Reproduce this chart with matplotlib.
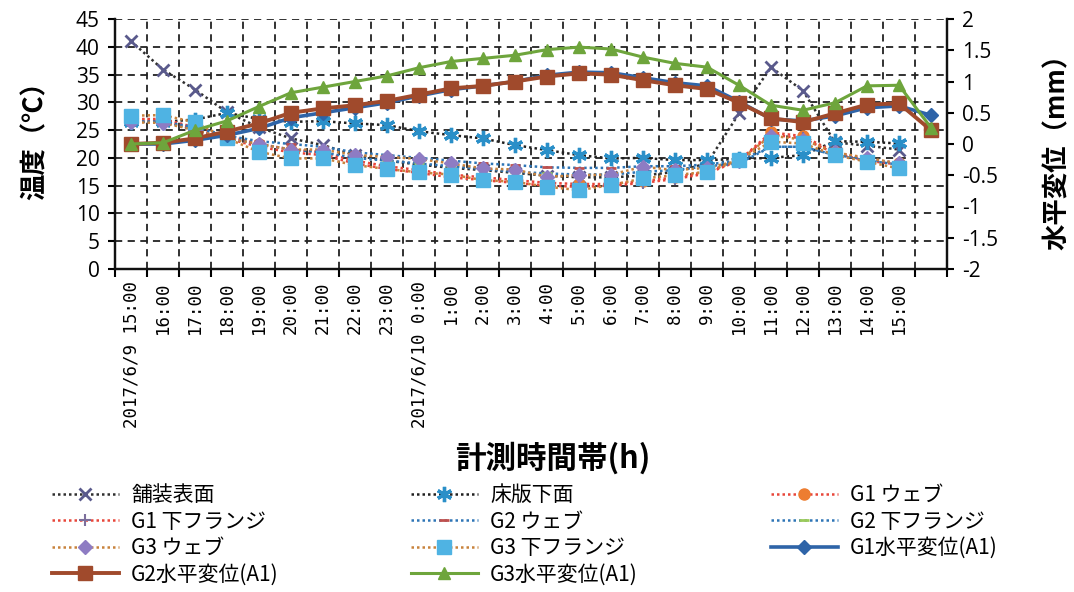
import matplotlib
matplotlib.use('Agg')
import matplotlib.pyplot as plt
import numpy as np
from matplotlib.lines import Line2D

# ---------------- data ----------------
time_labels = ["2017/6/9 15:00", "16:00", "17:00", "18:00", "19:00", "20:00", "21:00",
               "22:00", "23:00", "2017/6/10 0:00", "1:00", "2:00", "3:00", "4:00",
               "5:00", "6:00", "7:00", "8:00", "9:00", "10:00", "11:00", "12:00",
               "13:00", "14:00", "15:00", ""]

# temperatures (deg C), 15:00 .. 15:00 next day
pavement = [41.0, 35.9, 32.3, 28.2, 25.5, 23.5, 22.3, 20.5, 19.5, 18.8, 18.2, 17.8, 17.3,
            16.8, 16.5, 16.5, 16.8, 17.5, 19.0, 28.0, 36.3, 32.1, 22.8, 22.2, 21.5]
slab = [26.5, 26.5, 26.9, 28.1, 27.0, 26.5, 26.6, 26.2, 25.9, 24.8, 24.1, 23.5, 22.3,
        21.4, 20.5, 19.9, 20.0, 19.6, 19.6, 19.8, 20.0, 20.5, 23.0, 22.9, 22.6]
g1_web = [27.0, 27.0, 25.5, 24.0, 22.5, 21.5, 21.0, 19.5, 18.5, 17.8, 17.0, 16.5, 16.0,
          15.5, 15.3, 15.3, 15.8, 16.5, 17.5, 19.5, 24.6, 23.9, 21.0, 19.8, 19.0]
g1_flange = [27.0, 26.8, 25.0, 23.5, 22.0, 21.0, 20.5, 19.0, 18.0, 17.3, 16.5, 16.0, 15.5,
             15.0, 14.8, 15.0, 15.5, 16.2, 17.2, 19.5, 24.2, 23.5, 20.8, 19.5, 18.8]
g2_web = [26.5, 26.5, 25.5, 24.0, 23.0, 22.5, 22.0, 21.0, 20.5, 20.0, 19.5, 19.0, 18.7,
          18.3, 18.2, 18.2, 18.5, 18.5, 18.8, 19.5, 22.0, 22.0, 20.5, 19.8, 19.0]
g2_flange = [26.5, 26.5, 25.0, 23.5, 22.5, 21.5, 21.0, 20.0, 19.5, 19.0, 18.5, 18.0, 17.5,
             17.2, 17.0, 17.0, 17.5, 17.8, 18.5, 19.0, 22.0, 22.0, 20.5, 19.5, 18.8]
g3_web = [26.4, 26.3, 25.0, 23.5, 22.5, 21.5, 21.5, 20.5, 20.2, 19.8, 19.0, 18.1, 17.9,
          16.6, 16.9, 17.0, 18.4, 17.8, 18.2, 19.5, 24.0, 23.3, 21.0, 20.0, 19.0]
g3_flange = [27.6, 27.7, 26.4, 23.5, 21.1, 19.9, 19.9, 18.7, 18.0, 17.4, 17.0, 16.0, 15.7,
             14.8, 14.2, 15.1, 16.3, 16.9, 17.5, 19.6, 22.9, 22.6, 20.5, 19.3, 18.1]

# horizontal displacement (mm)
g1_disp = [0.0, 0.0, 0.06, 0.14, 0.25, 0.42, 0.50, 0.58, 0.66, 0.77, 0.87, 0.93, 1.00,
           1.10, 1.15, 1.14, 1.06, 0.98, 0.93, 0.68, 0.40, 0.37, 0.45, 0.58, 0.61, 0.46]
g2_disp = [0.0, 0.02, 0.09, 0.20, 0.33, 0.50, 0.57, 0.62, 0.69, 0.79, 0.89, 0.93, 1.00,
           1.08, 1.13, 1.11, 1.02, 0.94, 0.88, 0.66, 0.41, 0.35, 0.49, 0.63, 0.65, 0.22]
g3_disp = [0.0, 0.02, 0.22, 0.37, 0.60, 0.82, 0.91, 1.00, 1.09, 1.22, 1.32, 1.37, 1.42,
           1.51, 1.55, 1.52, 1.39, 1.29, 1.23, 0.94, 0.62, 0.54, 0.66, 0.93, 0.94, 0.26]

# ---------------- figure ----------------
JP = ['Noto Sans CJK JP', 'DejaVu Sans']
plt.rcParams['font.family'] = JP

W, H = 1074, 592
fig = plt.figure(figsize=(W / 100, H / 100), dpi=100)
fig.patch.set_facecolor('white')

L, R, T, B = 115, 947, 19, 269
ax1 = fig.add_axes([L / W, 1 - B / H, (R - L) / W, (B - T) / H])
ax2 = ax1.twinx()

xt = np.arange(len(pavement))
xd = np.arange(len(g1_disp))

dot = (0, (1, 1.2))
temp_styles = [
    (pavement, '舗装表面', dict(color='#303030', ls=dot, lw=1.8, marker='x', ms=9, mew=2.0,
                              mfc='#5a5a8c', mec='#5a5a8c')),
    (slab, '床版下面', dict(color='#202020', ls=dot, lw=1.8, marker=(6, 2, 0), ms=11, mew=2.4,
                          mfc='#2a8fc8', mec='#2a8fc8')),
    (g1_web, 'G1 ウェブ', dict(color='#e8463a', ls=dot, lw=1.8, marker='o', ms=8,
                             mfc='#ed7d31', mec='#ed7d31')),
    (g1_flange, 'G1 下フランジ', dict(color='#e8463a', ls=dot, lw=1.8, marker='+', ms=9, mew=1.5,
                                  mfc='#7c6f9c', mec='#7c6f9c')),
    (g2_web, 'G2 ウェブ', dict(color='#2e75b6', ls=dot, lw=1.8, marker='_', ms=7, mew=2,
                             mfc='#c0504d', mec='#c0504d')),
    (g2_flange, 'G2 下フランジ', dict(color='#2e75b6', ls=dot, lw=1.8, marker='_', ms=7, mew=2,
                                  mfc='#9bcb59', mec='#9bcb59')),
    (g3_web, 'G3 ウェブ', dict(color='#c8823c', ls=dot, lw=1.8, marker='D', ms=7,
                             mfc='#8e7cc3', mec='#8e7cc3')),
    (g3_flange, 'G3 下フランジ', dict(color='#c8823c', ls=dot, lw=1.8, marker='s', ms=10,
                                  mfc='#4fb3e3', mec='#4fb3e3')),
]
disp_styles = [
    (g1_disp, 'G1水平変位(A1)', dict(color='#2e64a8', ls='-', lw=2.6, marker='D', ms=7,
                                  mfc='#2e64a8', mec='#2e64a8')),
    (g2_disp, 'G2水平変位(A1)', dict(color='#a04a2c', ls='-', lw=2.8, marker='s', ms=10,
                                  mfc='#a04a2c', mec='#a04a2c')),
    (g3_disp, 'G3水平変位(A1)', dict(color='#6ea53c', ls='-', lw=2.2, marker='^', ms=9,
                                  mfc='#6ea53c', mec='#6ea53c')),
]

handles = {}
for data, name, st in temp_styles:
    h, = ax1.plot(xt, data, label=name, **st)
    handles[name] = h
for data, name, st in disp_styles:
    h, = ax2.plot(xd, data, label=name, **st)
    handles[name] = h

# ---------------- axes ----------------
grid_kw = dict(color='#222222', lw=1.3, ls=(0, (4, 3)))
ax1.set_xlim(-0.5, len(time_labels) - 0.5)
ax1.set_xticks(np.arange(len(time_labels)))
ax1.set_xticklabels(time_labels, rotation=90, fontfamily='DejaVu Sans Mono', fontsize=12.5,
                    va='top')
ax1.tick_params(axis='x', which='major', length=0, pad=9)
ax1.set_xticks(np.arange(-0.5, len(time_labels), 1), minor=True)
ax1.tick_params(axis='x', which='minor', length=6, width=1.5, direction='out')
ax1.grid(which='minor', axis='x', **grid_kw)

ax1.set_ylim(0, 45)
ax1.set_yticks(np.arange(0, 46, 5))
ax1.grid(which='major', axis='y', **grid_kw)
ax1.tick_params(axis='y', length=5, width=1.5, direction='out', labelsize=15, pad=6)
for lab in ax1.get_yticklabels():
    lab.set_fontfamily('Open Sans')

ax2.set_ylim(-2, 2)
ax2.set_yticks(np.arange(-2, 2.01, 0.5))
ax2.set_yticklabels(['%g' % v for v in np.arange(-2, 2.01, 0.5)])
ax2.tick_params(axis='y', length=5, width=1.5, direction='out', labelsize=15, pad=6)
for lab in ax2.get_yticklabels():
    lab.set_fontfamily('Open Sans')

for ax in (ax1, ax2):
    ax.spines['top'].set_visible(False)
    for s in ('left', 'right', 'bottom'):
        ax.spines[s].set_linewidth(1.6)
        ax.spines[s].set_color('#111111')

# ---------------- labels ----------------
fig.text(35 / W, 1 - 134 / H, '温度（℃）', rotation=90, ha='center', va='center',
         fontsize=19, fontweight='bold', family=JP)
fig.text(1057 / W, 1 - 145 / H, '水平変位（mm）', rotation=90, ha='center', va='center',
         fontsize=19, fontweight='bold', family=JP)
fig.text(553 / W, 1 - 458 / H, '計測時間帯(h)', ha='center', va='center',
         fontsize=22, fontweight='bold', family=JP)

# ---------------- legend (3 columns) ----------------
cols = [
    (52, ['舗装表面', 'G1 下フランジ', 'G3 ウェブ', 'G2水平変位(A1)']),
    (411, ['床版下面', 'G2 ウェブ', 'G3 下フランジ', 'G3水平変位(A1)']),
    (771, ['G1 ウェブ', 'G2 下フランジ', 'G1水平変位(A1)']),
]
for x0, names in cols:
    fig.legend([handles[n] for n in names], names, loc='upper left',
               bbox_to_anchor=(x0 / W, 1 - 484 / H), frameon=False,
               prop={'family': JP, 'size': 15}, handlelength=3.2, handletextpad=0.6,
               labelspacing=0.22, borderpad=0, borderaxespad=0, numpoints=1)

fig.savefig('out.png', dpi=100, facecolor='white')
